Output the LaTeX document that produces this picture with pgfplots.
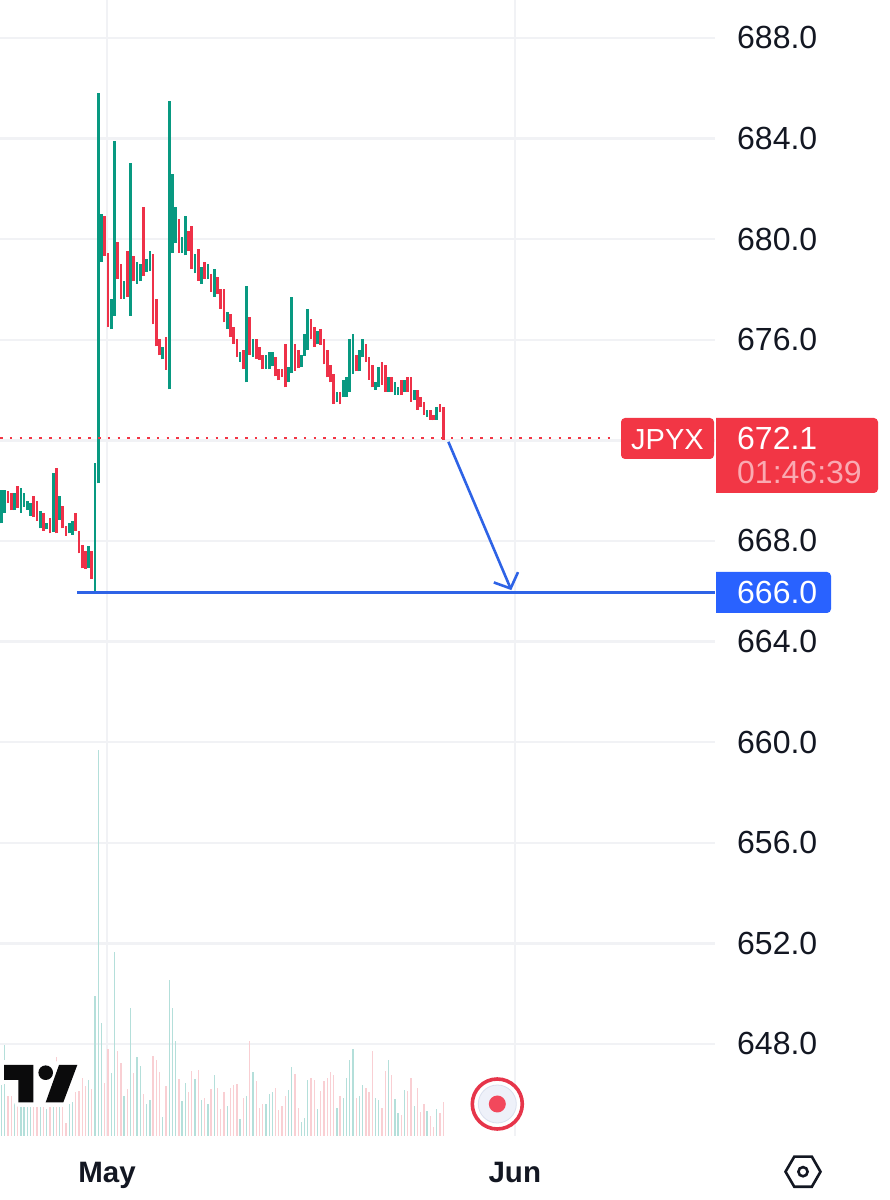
\documentclass[border=0pt]{standalone}
\usepackage{fontspec}
\setmainfont{Liberation Sans}
\usepackage{pgfplots}
\usepackage{pgfplotstable}
\pgfplotsset{compat=1.18}
\definecolor{cgreen}{HTML}{089981}
\definecolor{cred}{HTML}{EE3148}
\definecolor{vgreen}{HTML}{B4DFDA}
\definecolor{vred}{HTML}{F9CFD3}
\definecolor{gridc}{HTML}{F1F2F5}
\definecolor{tagred}{HTML}{F23645}
\definecolor{tagblue}{HTML}{2962FF}
\definecolor{lineblue}{HTML}{2E63E6}
\definecolor{ink}{HTML}{131722}
\definecolor{logoblack}{HTML}{0B0B0C}
\definecolor{ringred}{HTML}{E6354A}
\definecolor{discfill}{HTML}{EEF1F9}
\definecolor{discline}{HTML}{DAE0EE}
\definecolor{dotred}{HTML}{F2485C}
\definecolor{timerpink}{HTML}{FAAAB2}
\pgfplotstableread{
x lo hi
-30 668.70 670.03
-29 669.12 670.03
-26 669.23 669.89
-24 669.12 670.11
-23 669.34 669.92
-22 669.23 669.59
-21 669.01 669.50
-18 668.50 669.20
-16 668.46 668.70
-14 668.37 670.69
-12 668.83 669.79
-9 668.30 668.70
-8 668.24 668.81
-3 666.91 667.80
-1 665.96 671.11
0 670.29 685.80
1 679.11 681.00
4 676.42 677.61
5 676.95 683.92
8 677.62 678.32
10 676.95 683.02
12 678.23 679.08
13 678.32 679.00
15 678.70 679.21
16 678.72 679.52
20 675.22 675.73
22 674.03 685.51
23 679.44 682.59
24 679.84 681.29
26 679.44 680.10
27 679.35 680.92
30 678.64 679.41
32 678.23 678.88
34 678.42 679.00
36 677.71 678.80
40 676.42 677.12
44 675.12 675.51
46 674.30 678.14
48 675.33 676.02
52 674.83 675.40
53 674.83 675.51
54 674.94 675.51
59 674.31 674.91
60 674.67 677.69
63 674.90 675.40
64 675.37 676.21
65 675.60 677.22
68 675.82 676.33
74 673.52 673.92
76 673.72 674.41
77 673.73 674.51
78 673.92 676.02
79 674.63 676.21
81 674.74 675.60
82 675.31 676.02
86 674.01 674.30
87 674.11 674.91
90 673.92 674.51
92 673.82 674.30
93 673.82 674.11
95 673.92 674.41
98 673.61 674.01
102 672.92 673.21
105 672.82 673.32
}\greenbars
\pgfplotstableread{
x lo hi
-28 669.52 670.00
-27 669.23 669.92
-25 669.30 670.20
-20 668.97 669.79
-19 668.81 669.59
-17 668.41 669.10
-15 668.30 668.91
-13 668.30 670.89
-11 668.50 669.39
-10 668.21 668.60
-7 668.41 669.10
-6 667.51 668.41
-5 666.91 667.83
-4 666.89 667.61
-2 666.50 667.61
2 679.33 680.92
3 676.52 679.44
6 678.43 679.90
7 677.62 679.00
9 677.70 679.52
11 678.32 679.33
14 678.54 681.29
17 676.61 679.41
18 675.74 677.61
19 675.38 676.02
21 674.80 676.10
25 679.44 680.80
28 679.52 680.33
29 678.82 680.53
31 678.34 679.61
33 678.42 679.09
35 677.90 678.62
37 677.82 678.51
38 677.24 678.02
39 676.69 678.02
41 676.12 677.01
42 675.84 676.50
43 675.31 676.01
45 674.83 675.60
47 675.40 676.92
49 675.23 676.02
50 675.20 675.73
51 674.83 675.40
55 674.54 675.31
56 674.38 674.83
57 674.51 674.83
58 674.11 675.84
61 674.76 675.84
62 674.87 675.60
66 676.02 676.83
67 675.73 676.50
69 675.80 676.41
70 675.02 676.02
71 674.50 675.60
72 674.30 675.00
73 673.44 674.63
75 673.43 673.92
80 674.74 675.40
83 675.11 675.84
84 674.41 675.31
85 674.11 675.00
88 674.21 675.11
89 673.92 675.00
91 673.92 674.51
94 673.82 674.41
96 673.92 674.51
97 673.53 674.51
99 673.21 674.01
100 673.31 673.72
101 673.01 673.52
103 672.82 673.19
104 672.79 673.01
106 673.11 673.43
107 672.02 673.32
}\redbars
\pgfplotstableread{
x v
-30 50.7
-29 90.7
-26 49
-24 55.7
-23 49
-22 45.7
-21 42.3
-18 42.3
-16 26.3
-14 62.3
-12 55.7
-9 31.7
-8 33.3
-3 55.7
-1 139.7
0 385.7
1 113
4 62.3
5 183.7
8 39.7
10 127.3
12 78.3
13 69.7
15 31.7
16 35.7
20 19
22 155.7
23 128
24 94.7
26 34.3
27 52.3
30 56.3
32 35.7
34 31.7
36 61
40 29.7
44 16.3
46 39.7
48 63.3
52 31.7
53 41.7
54 43.3
59 45.7
60 69
63 13.3
64 17.3
65 55.7
68 26.7
74 28
76 37.3
77 57.3
78 75.7
79 86.7
81 39.7
82 50.7
86 38
87 35.7
90 75.7
92 36.3
93 22.3
95 45.7
98 29.7
102 24.7
105 26.7
}\greenvol
\pgfplotstableread{
x v
-28 39.7
-27 39.7
-25 52.3
-20 55.7
-19 49
-17 45.7
-15 42.3
-13 78.3
-11 42.3
-10 12.3
-7 44
-6 45
-5 57.3
-4 49.7
-2 46.7
2 52.3
3 86.7
6 84.7
7 72.3
9 46.7
11 62.3
14 41.3
17 80
18 75.7
19 64
21 50
25 56.3
28 44
29 64.3
31 65.7
33 38
35 46.7
37 48
38 26.3
39 43.3
41 47.3
42 50.7
43 51.3
45 38
47 95
49 55
50 28
51 31.7
55 47.3
56 25.7
57 29.7
58 40
61 61.3
62 28
66 58
67 55.7
69 44.3
70 55
71 58
72 63.3
73 60.7
75 40
80 38
83 47.3
84 43.3
85 85
88 28
89 65
91 60.7
94 20.7
96 44.3
97 57.3
99 47.3
100 24
101 31.3
103 19.7
104 9
106 23
107 33.3
}\redvol
\begin{document}
\begin{tikzpicture}[x=1pt,y=1pt]
\useasboundingbox (0,0) rectangle (890,1200);
\begin{axis}[
  at={(0pt,64pt)}, anchor=south west,
  scale only axis, width=715pt, height=1136pt,
  xmin=-30.49, xmax=191.3, ymin=644.34, ymax=689.51,
  axis line style={draw=none}, major tick length=0pt,
  xtick={2.7,129.2}, xticklabels={May,Jun},
  ytick={648,652,656,660,664,668,676,680,684,688},
  extra y ticks={672}, extra y tick labels={},
  extra y tick style={grid=major},
  yticklabel pos=right,
  grid=major,
  grid style={draw=gridc, line width=2.4pt},
  yticklabel style={anchor=west, xshift=22pt, inner sep=0pt, text=ink,
    font=\fontsize{32}{32}\selectfont,
    /pgf/number format/assume math mode=true,
    /pgf/number format/fixed, /pgf/number format/fixed zerofill,
    /pgf/number format/precision=1, /pgf/number format/1000 sep={}},
  xticklabel style={anchor=base, yshift=-47pt, inner sep=0pt, text=ink,
    font=\fontsize{29.5}{30}\selectfont\bfseries},
]
\addplot[draw=none, mark=none, forget plot,
  error bars/.cd, y dir=plus, y explicit, error mark=none,
  error bar style={draw=cgreen, line width=2.7pt}]
  table[x=x, y=lo, y error expr=\thisrow{hi}-\thisrow{lo}] {\greenbars};
\addplot[draw=none, mark=none, forget plot,
  error bars/.cd, y dir=plus, y explicit, error mark=none,
  error bar style={draw=cred, line width=2.7pt}]
  table[x=x, y=lo, y error expr=\thisrow{hi}-\thisrow{lo}] {\redbars};
\addplot[tagred, line width=2.6pt, dash pattern=on 2.6pt off 7.2pt, forget plot]
  coordinates {(-30.49,672.1) (160.9,672.1)};
\addplot[lineblue, line width=2.6pt, forget plot]
  coordinates {(-6.6,665.95) (191.3,665.95)};
\addplot[lineblue, line width=2.6pt, line join=miter, forget plot]
  coordinates {(108.6,671.94) (127.9,666.11)};
\addplot[lineblue, line width=2.6pt, line join=miter, forget plot]
  coordinates {(122.7,666.35) (127.9,666.11) (130.2,666.76)};
\end{axis}
\begin{axis}[
  at={(0pt,64pt)}, anchor=south west,
  scale only axis, width=715pt, height=1136pt,
  xmin=-30.49, xmax=191.3, ymin=-0.3, ymax=1135.7,
  hide axis,
]
\addplot[ycomb, vgreen, line width=1.3pt, mark=none, forget plot] table[x=x, y=v] {\greenvol};
\addplot[ycomb, vred, line width=1.3pt, mark=none, forget plot] table[x=x, y=v] {\redvol};
\end{axis}
\begin{scope}[yscale=-1, yshift=-1200pt]
  % logo
  \fill[white] (33,1063) rectangle (64,1107);
  \begin{scope}[white, line width=9pt, line join=round]
    \filldraw (4,1065)--(33.3,1065)--(33.3,1102.3)--(18.3,1102.3)--(18.3,1080)--(4,1080)--cycle;
    \filldraw (59,1065)--(77.3,1065)--(63.3,1102.3)--(45.7,1102.3)--cycle;
    \filldraw (45.7,1072.7) circle (7.3);
  \end{scope}
  \fill[logoblack] (4,1065)--(33.3,1065)--(33.3,1102.3)--(18.3,1102.3)--(18.3,1080)--(4,1080)--cycle;
  \fill[logoblack] (59,1065)--(77.3,1065)--(63.3,1102.3)--(45.7,1102.3)--cycle;
  \fill[logoblack] (45.7,1072.7) circle (7.3);
  % record button
  \draw[ringred, line width=3.6pt, fill=white] (497.3,1104) circle (25);
  \draw[fill=discfill, draw=discline, line width=0.8pt] (497.3,1104) circle (19);
  \fill[dotred] (497.3,1104) circle (8.5);
  % hexagon
  \draw[ink, line width=2.6pt, line join=miter] (820.5,1171.7)--(811.8,1186.8)--(794.3,1186.8)--(785.5,1171.7)--(794.3,1156.6)--(811.8,1156.6)--cycle;
  \draw[ink, line width=2.6pt] (803,1171.7) circle (4.6);
  % tags
  \fill[tagred, rounded corners=4pt] (621,418) rectangle (714,459);
  \fill[tagred] (716,418) [rounded corners=4pt] -- (878,418) -- (878,493) [sharp corners] -- (716,493) -- cycle;
  \fill[tagblue] (716,572) [rounded corners=4pt] -- (831,572) -- (831,613) [sharp corners] -- (716,613) -- cycle;
  \node[anchor=base west, inner sep=0pt, white, font=\fontsize{29}{29}\selectfont] at (631,450) {JPYX};
  \node[anchor=base west, inner sep=0pt, white, font=\fontsize{32}{32}\selectfont] at (737,450) {672.1};
  \node[anchor=base west, inner sep=0pt, timerpink, font=\fontsize{32}{32}\selectfont] at (737,484) {01:46:39};
  \node[anchor=base west, inner sep=0pt, white, font=\fontsize{32}{32}\selectfont] at (737,604) {666.0};
\end{scope}
\end{tikzpicture}
\end{document}
